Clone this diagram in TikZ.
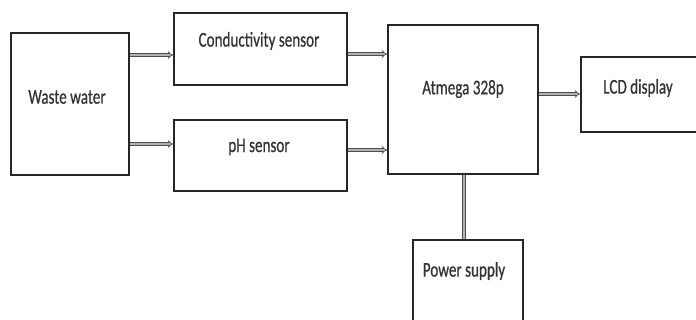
\documentclass[tikz,border=0pt]{standalone}
\usepackage{fontspec}
\setmainfont{Carlito}
\newfontfamily\cf[FakeStretch=0.72,FakeBold=0.6]{Carlito}
\usetikzlibrary{arrows.meta}
\begin{document}
\begin{tikzpicture}[x=1pt,y=-1pt,
  box/.style={draw=black!85, line width=1.6pt, fill=white, inner sep=0pt, anchor=north west},
  lbl/.style={font=\cf\fontsize{21}{23}\selectfont, text=black!80, inner sep=0pt},
  dbl/.style={draw=black!70, line width=0.8pt, double=gray!60, double distance=1.8pt},
  arr/.style={dbl, -{Implies[length=3pt]}}]
\useasboundingbox (0,0) rectangle (696,320);
\node[box, minimum width=118pt, minimum height=142pt] (ww) at (10,32) {};
\node[box, minimum width=173pt, minimum height=72pt] (cs) at (173,12) {};
\node[box, minimum width=173pt, minimum height=71pt] (ph) at (173,119) {};
\node[box, minimum width=150pt, minimum height=149pt] (at) at (387,24) {};
\node[box, minimum width=125pt, minimum height=75pt] (lcd) at (580,56) {};
\node[box, minimum width=110pt, minimum height=90pt] (ps) at (412,239) {};
\node[lbl] (wwt) at (67,97) {Waste water};
\node[lbl] (cst) at (259,41) {Conductivity sensor};
\node[lbl] (pht) at (259,147) {pH sensor};
\node[lbl] (att) at (463,89) {Atmega 328p};
\node[lbl] (lcdt) at (638,88) {LCD display};
\node[lbl] (pst) at (464,271) {Power supply};
\coordinate (a1) at (ww.east |- 0,55);
\coordinate (a2) at (ww.east |- 0,144);
\coordinate (b1) at (cs.east |- 0,54);
\coordinate (b2) at (ph.east |- 0,150);
\coordinate (c1) at (at.east |- 0,94);
\draw[arr] ([xshift=0.8pt]a1) -- (a1 -| cs.west);
\draw[arr] ([xshift=0.8pt]a2) -- (a2 -| ph.west);
\draw[arr] ([xshift=0.8pt]b1) -- (b1 -| at.west);
\draw[arr] ([xshift=0.8pt]b2) -- (b2 -| at.west);
\draw[arr] ([xshift=0.8pt]c1) -- (c1 -| lcd.west);
\draw[dbl] (at.south -| 464,0) -- (ps.north -| 464,0);
\end{tikzpicture}
\end{document}
